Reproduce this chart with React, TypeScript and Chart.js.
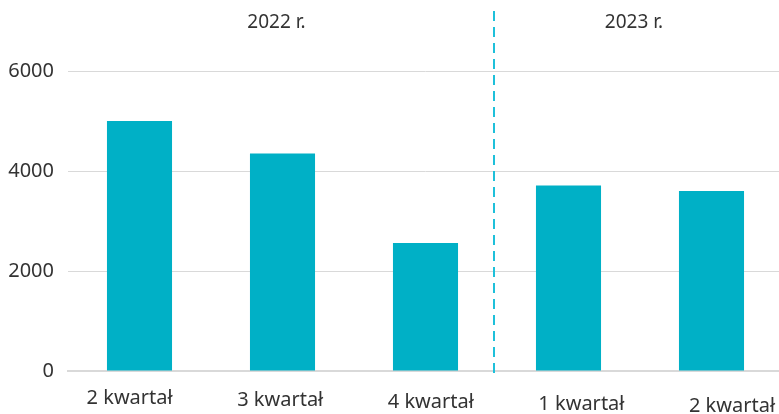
import React, { useEffect, useRef } from "react";
import { Chart, registerables } from "chart.js";

Chart.register(...registerables);

const categories = ["2 kwartał", "3 kwartał", "4 kwartał", "1 kwartał", "2 kwartał"];
const values = [5000, 4350, 2560, 3710, 3600];
const yearLabels = ["2022 r.", "2023 r."];
const yearStart = [0, 3];
const yearEnd = [2, 4];
const yTicks = [0, 2000, 4000, 6000];

const FONT = "'Noto Sans', sans-serif";
const TEXT = "#333333";
const BAR = "#00B0C6";
const DASH = "#1EC0DA";
const GRID = "#D9D9D9";

const overlay = {
  id: "overlay",
  afterDraw(chart: any) {
    const ctx = chart.ctx;
    const x = chart.scales.x;
    const area = chart.chartArea;
    ctx.save();
    // x labels
    ctx.font = `20px ${FONT}`;
    ctx.fillStyle = TEXT;
    ctx.textAlign = "center";
    ctx.textBaseline = "alphabetic";
    categories.forEach((c, i) => {
      const px = x.getPixelForValue(i) + (i - 1.3) * 7.6;
      ctx.fillText(c, px, area.bottom + 33 + i * 2);
    });
    // year labels
    ctx.font = `19px ${FONT}`;
    yearLabels.forEach((l, i) => {
      const px = (x.getPixelForValue(yearStart[i]) + x.getPixelForValue(yearEnd[i])) / 2 - 6;
      ctx.fillText(l, px, 28);
    });
    // divider
    const dx = (x.getPixelForValue(yearEnd[0]) + x.getPixelForValue(yearStart[1])) / 2 - 3;
    ctx.strokeStyle = DASH;
    ctx.lineWidth = 2;
    ctx.setLineDash([10, 6]);
    ctx.beginPath();
    ctx.moveTo(dx, 11);
    ctx.lineTo(dx, area.bottom + 4);
    ctx.stroke();
    ctx.restore();
  },
};

export default function App() {
  const ref = useRef<HTMLCanvasElement | null>(null);
  useEffect(() => {
    if (!ref.current) return;
    const chart = new Chart(ref.current, {
      type: "bar",
      data: {
        labels: categories,
        datasets: [
          {
            data: values,
            backgroundColor: BAR,
            barPercentage: 0.455,
            categoryPercentage: 1,
          },
        ],
      },
      options: {
        animation: false,
        responsive: true,
        maintainAspectRatio: false,
        layout: { padding: { top: 71, right: 0, bottom: 0, left: 0 } },
        plugins: { legend: { display: false }, tooltip: { enabled: false } },
        scales: {
          x: {
            grid: { display: false },
            border: { display: true, color: GRID, width: 2 },
            ticks: { display: false },
            afterFit: (s: any) => {
              s.height = 43;
            },
          },
          y: {
            min: 0,
            max: 6000,
            afterBuildTicks: (s: any) => {
              s.ticks = yTicks.map((v) => ({ value: v }));
            },
            grid: { color: GRID, lineWidth: 1, drawTicks: false },
            border: { display: false },
            ticks: {
              padding: 14,
              color: TEXT,
              font: { family: FONT, size: 20 },
              callback: (v: any) => String(v),
            },
            afterFit: (s: any) => {
              s.width = 68;
            },
          },
        },
      },
      plugins: [overlay],
    });
    return () => chart.destroy();
  }, []);
  return (
    <div style={{ position: "absolute", left: 0, top: 0, width: 779, height: 414, overflow: "hidden", background: "#fff" }}>
      <div style={{ position: "relative", width: 783, height: 414 }}>
        <canvas ref={ref} />
      </div>
    </div>
  );
}
